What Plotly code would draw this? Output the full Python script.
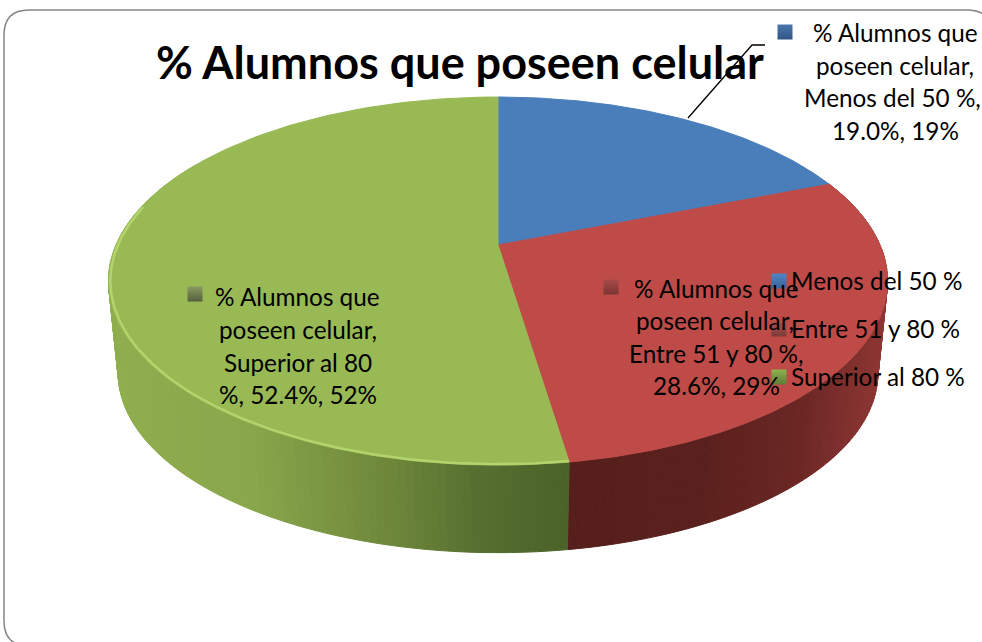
import numpy as np
import plotly.graph_objects as go

# ---- data ----
categories = ["Menos del 50 %", "Entre 51 y 80 %", "Superior al 80 %"]
values = [19.0, 28.6, 52.4]
rounded = ["19%", "29%", "52%"]
series_name = "% Alumnos que poseen celular"
top_colors = ["#4a7ebb", "#be4b48", "#98b954"]
legend_key_colors = ["#4f86c6", "#a8524f", "#8fb350"]
legend_key_dark = ["#3a6496", "#7a3a38", "#5f7d34"]
label_key_colors = ["#4a78ad", "#a84a48", "#8a9a62"]
label_key_dark = ["#2f5585", "#7a3533", "#565f3c"]
title = "% Alumnos que poseen celular"

# ---- projection of the tilted pie (page pixels) ----
CX, CY, A, B, K = 498, 245, 382, 177, 0.196
XS, YS, DROP = 0.975, 0.975, 93


def top(theta):
    d = 1 + K * np.cos(theta)
    return CX + A * np.sin(theta) / d, CY - B * np.cos(theta) / d


def bottom(theta):
    d = 1 + K * np.cos(theta)
    return CX + XS * A * np.sin(theta) / d, CY - YS * B * np.cos(theta) / d + DROP


def ramp(x, stops):
    xs = [s[0] for s in stops]
    r = np.interp(x, xs, [s[1][0] for s in stops])
    g = np.interp(x, xs, [s[1][1] for s in stops])
    b = np.interp(x, xs, [s[1][2] for s in stops])
    return f"rgb({r:.0f},{g:.0f},{b:.0f})"


side_stops = {
    1: [(567, (86, 31, 28)), (700, (90, 32, 29)), (800, (106, 39, 36)), (888, (142, 54, 51))],
    2: [(108, (143, 174, 78)), (250, (137, 166, 75)), (400, (107, 132, 57)),
        (480, (86, 110, 47)), (567, (75, 99, 40))],
}

cum = np.concatenate([[0], np.cumsum(values)]) / sum(values) * 2 * np.pi
fig = go.Figure()

# side wall, as thin shaded strips
for i in (1, 2):
    t0, t1 = cum[i], min(cum[i + 1], np.radians(300))
    edges = np.linspace(t0, t1, int((t1 - t0) / np.radians(1.0)) + 2)
    for a, b in zip(edges[:-1], edges[1:]):
        tt = np.linspace(a, b, 3)
        xt, yt = top(tt)
        xb, yb = bottom(tt)
        col = ramp(float(xt.mean()), side_stops[i])
        fig.add_trace(go.Scatter(
            x=np.r_[xt, xb[::-1], xt[0]], y=np.r_[yt, yb[::-1], yt[0]],
            mode="lines", fill="toself", fillcolor=col,
            line=dict(color=col, width=1), hoverinfo="skip", showlegend=False))

# top faces
for i, col in enumerate(top_colors):
    tt = np.linspace(cum[i], cum[i + 1], 160)
    x, y = top(tt)
    fig.add_trace(go.Scatter(
        x=np.r_[CX, x, CX], y=np.r_[CY, y, CY],
        mode="lines", fill="toself", fillcolor=col,
        line=dict(color=col, width=1), hoverinfo="skip", showlegend=False))

# bevel highlight on the rim of the green slice
tt = np.linspace(cum[2], np.radians(283), 140)
x, y = top(tt)
fig.add_trace(go.Scatter(
    x=CX + (x - CX) * 0.995, y=CY + (y - CY) * 0.995, mode="lines",
    line=dict(color="rgba(188,220,116,0.75)", width=2.5), hoverinfo="skip", showlegend=False))

# data-label and legend keys
label_key_x = [785, 611, 195]
label_key_y = [32, 287, 294]
legend_key_x = [779, 779, 779]
legend_key_y = [281, 329, 377]
for kx, ky, col, dark in zip(label_key_x + legend_key_x, label_key_y + legend_key_y,
                             label_key_colors + legend_key_colors, label_key_dark + legend_key_dark):
    fig.add_trace(go.Scatter(
        x=[kx], y=[ky], mode="markers",
        marker=dict(symbol="square", size=15, color=col,
                    gradient=dict(type="vertical", color=dark), line=dict(width=0)),
        hoverinfo="skip", showlegend=False))

FONT = "Lato"
FS = 24.3
annotations = [dict(x=460, y=62, text=f"<b>{title}</b>", font=dict(size=45, family=FONT, color="black"),
                    showarrow=False, xanchor="center", yanchor="middle")]

label_lines = [
    ("% Alumnos que", "poseen celular,", "Menos del 50 %,", "19.0%, 19%"),
    ("% Alumnos que", "poseen celular,", "Entre 51 y 80 %,", "28.6%, 29%"),
    ("% Alumnos que", "poseen celular,", "Superior al 80", "%, 52.4%, 52%"),
]
label_x = [(895, 895, 892.5, 895), (716.5, 715, 716.5, 716.5), (297.5, 297.5, 297.5, 297.5)]
label_y = [(32, 65, 97, 130), (288, 320, 353, 385), (296, 329, 362, 394)]
for lines, xs, ys in zip(label_lines, label_x, label_y):
    for line, lx, ly in zip(lines, xs, ys):
        annotations.append(dict(x=lx, y=ly, text=line, showarrow=False,
                                font=dict(size=FS, family=FONT, color="black"),
                                xanchor="center", yanchor="middle"))
for cat, ky in zip(categories, legend_key_y):
    annotations.append(dict(x=789, y=ky - 1, text=cat, showarrow=False,
                            font=dict(size=FS, family=FONT, color="black"),
                            xanchor="left", yanchor="middle"))

shapes = [
    dict(type="path", layer="below", line=dict(color="#868686", width=1.5), fillcolor="white",
         path="M 4 35 Q 4 10 29 10 L 967 10 Q 992 10 992 35 L 992 621 Q 992 646 967 646 "
              "L 29 646 Q 4 646 4 621 Z"),
    dict(type="path", layer="above", line=dict(color="black", width=1.3),
         path="M 688 118 L 752 45 L 765 45"),
]

fig.update_layout(
    width=982, height=642, autosize=False,
    margin=dict(l=0, r=0, t=0, b=0),
    paper_bgcolor="white", plot_bgcolor="white",
    xaxis=dict(range=[0, 982], visible=False, fixedrange=True),
    yaxis=dict(range=[642, 0], visible=False, fixedrange=True),
    annotations=annotations, shapes=shapes, showlegend=False,
)
fig.write_html("out.html", config=dict(displayModeBar=False),
               post_script="document.body.style.margin='0';document.body.style.overflow='hidden';")
